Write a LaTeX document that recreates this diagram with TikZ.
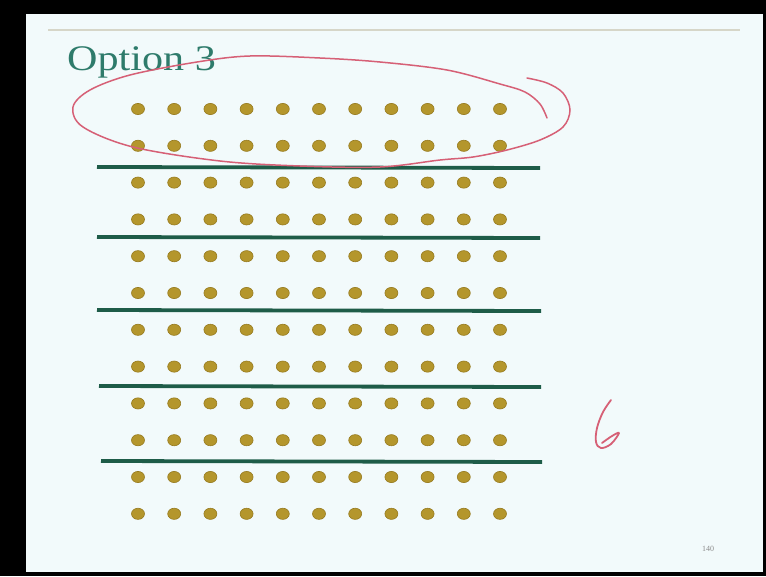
\documentclass[tikz,border=0pt]{standalone}
\usepackage{fontspec}
\setmainfont{Liberation Serif}
\definecolor{slidebg}{RGB}{242,250,251}
\definecolor{titlecol}{RGB}{46,123,107}
\definecolor{dotfill}{RGB}{180,150,44}
\definecolor{dotedge}{RGB}{150,122,30}
\definecolor{sepline}{RGB}{30,92,72}
\definecolor{inkred}{RGB}{214,96,118}
\definecolor{rulecol}{RGB}{214,214,200}
\tikzset{
  dotmark/.style={fill=dotfill,draw=dotedge,line width=0.6pt},
  sepstroke/.style={draw=sepline,line width=3.8pt},
  inkstroke/.style={draw=inkred,line width=1.5pt,line cap=round,line join=round},
}
\begin{document}
\begin{tikzpicture}[x=1pt,y=-1pt]
\useasboundingbox (0,0) rectangle (766,576);
\fill[black] (0,0) rectangle (766,576);
\fill[slidebg] (26,14) rectangle (763,572);
\draw[rulecol,line width=1.6pt] (48,30) -- (740,30);
\node[anchor=base west,inner sep=0pt,text=titlecol,font=\fontsize{36}{40}\selectfont,xscale=1.17] (title) at (67,70) {Option 3};
% dots
\foreach \r in {0,...,11}{
  \foreach \c in {0,...,10}{
    \fill[dotmark] ({138+36.2*\c},{109+36.8*\r}) ellipse (6.5 and 5.6);
  }
}
% separator lines
\draw[sepstroke] (97,167) -- (540,168);
\draw[sepstroke] (97,237) -- (540,238);
\draw[sepstroke] (97,310) -- (541,311);
\draw[sepstroke] (99,386) -- (541,387);
\draw[sepstroke] (101,461) -- (542,462);
% red loop
\draw[inkstroke] plot[smooth,tension=0.55] coordinates {
 (547,118) (540,104) (525,92) (500,84) (447,70) (380,62) (320,58) (250,56)
 (197,62) (130,75) (90,90) (73,107) (83,127) (133,147) (220,161) (300,166)
 (380,167) (440,160) (473,157) (507,150) (540,140) (563,127) (570,110)
 (563,93) (547,83) (527,78)};
% handwritten 6
\draw[inkstroke,line width=1.8pt] plot[smooth,tension=0.6] coordinates {
 (611,400) (603,412) (597,428) (596,442) (601,448) (611,444) (619,433) (612,436) (602,443)};
\node[text=black!45,font=\fontsize{8}{9}\selectfont,inner sep=0pt] (pnum) at (708,549) {140};
\end{tikzpicture}
\end{document}
